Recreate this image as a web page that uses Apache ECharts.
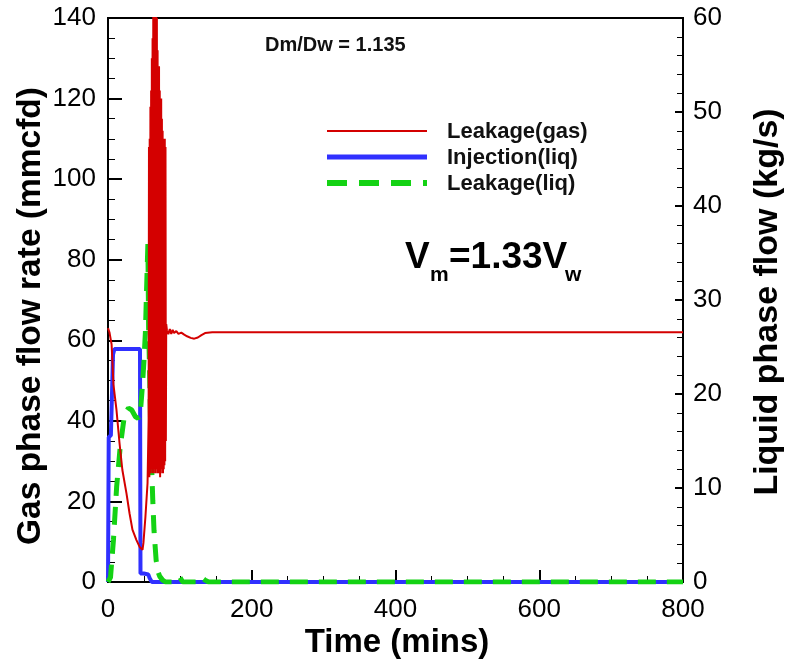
<!DOCTYPE html>
<html>
<head>
<meta charset="utf-8">
<script src="https://cdn.jsdelivr.net/npm/echarts@6/dist/echarts.min.js"></script>
<style>html,body{margin:0;padding:0;background:#fff;}#c{width:786px;height:663px;}</style>
</head>
<body>
<div id="c"></div>
<script>
// ---- data ----
const xTicks = [0, 200, 400, 600, 800];
const gasTicks = [0, 20, 40, 60, 80, 100, 120, 140];
const liqTicks = [0, 10, 20, 30, 40, 50, 60];

// Leakage(gas) — left axis (mmcfd)
const leakGasT = [0, 2, 5, 7.6, 11.8, 16, 20, 25.7, 30, 34, 39.6, 44, 48, 49.3, 52, 55, 56.5,
  57, 57.5, 58, 58.5, 59, 59.5, 60, 60.5, 61, 61.5, 62, 62.5, 63, 63.5, 64, 64.5, 65, 65.5, 66, 66.5,
  67, 67.5, 68, 68.5, 69, 69.5, 70, 70.5, 71, 71.5, 72, 72.5, 73, 73.5, 74, 74.5, 75, 75.5, 76, 76.5,
  77, 77.5, 78, 78.5, 79, 79.5, 80, 80.5, 81,
  82, 84, 86, 88, 90, 92, 95, 98, 102, 106, 110, 115, 120, 125, 130, 135, 145, 200, 300, 400, 500, 600, 700, 800];
const leakGasV = [63, 62, 59, 49, 42.7, 34.5, 27.8, 22, 17, 13, 10.4, 8.7, 8, 9.7, 16, 24.5, 40,
  108, 26, 110, 30, 118, 27, 122, 29, 130, 28, 135, 27, 148, 29, 150, 28, 150, 27, 148, 29,
  145, 28, 140, 27, 132, 29, 128, 27, 128, 28, 122, 26, 120, 27, 120, 28, 115, 29, 112, 27,
  110, 28, 110, 29, 110, 30, 108, 35, 64,
  62.5, 61.5, 62.8, 61.6, 62.6, 61.8, 62.3, 61.6, 61.9, 61.4, 61.0, 60.6, 60.4, 60.7, 61.3, 61.8, 62, 62, 62, 62, 62, 62, 62, 62];

// Injection(liq) — right axis (kg/s)
const injT = [0, 1, 4, 7, 9, 44.5, 45.2, 50, 56, 58, 61, 800];
const injV = [0, 15.4, 15.6, 24.2, 24.8, 24.8, 0.9, 0.9, 0.8, 0.4, 0, 0];

// Leakage(liq) — right axis (kg/s)
const leakLiqT = [0, 2, 3.5, 7.6, 12, 17, 23, 28.5, 33, 38, 42, 45, 48, 50, 52, 54, 55.5, 56.5, 57.7, 60,
  62.3, 64, 67, 70, 72, 76, 80, 95, 100, 104, 125, 130, 135, 140, 800];
const leakLiqV = [0, 0, 0.5, 4.5, 10.1, 14.4, 17.8, 18.5, 18.3, 17.6, 17.4, 18, 21, 23.5, 26.5, 32, 36, 27, 23, 14,
  8.7, 5.5, 2.3, 1, 0.6, 0.2, 0, 0, 0.5, 0, 0, 0.5, 0.2, 0, 0];

const seriesNames = ['Leakage(gas)', 'Injection(liq)', 'Leakage(liq)'];
const colors = ['#d40000', '#3030ff', '#14d214'];

// ---- build ----
const zip = (a, b) => a.map((t, i) => [t, b[i]]);
const FF = "'Liberation Sans', Arial, sans-serif";
const bold = s => "bold " + s + "px 'Liberation Sans', Arial, sans-serif";

const chart = echarts.init(document.getElementById('c'), null, {renderer: 'canvas'});

function yAxisCommon(min, max, interval, pos, tickLen, minorLen, minorSplit, ticks, margin) {
  return {
    type: 'value', min: min, max: max, interval: interval, position: pos,
    axisLine: {show: true, lineStyle: {color: '#000', width: 2}},
    axisTick: {show: true, inside: true, length: tickLen, lineStyle: {color: '#000', width: 2}},
    minorTick: {show: true, inside: true, splitNumber: minorSplit, length: minorLen, lineStyle: {color: '#000', width: 1}},
    splitLine: {show: false},
    axisLabel: {fontSize: 26, color: '#000', margin: margin, fontFamily: FF,
      formatter: v => ticks.includes(v) ? String(v) : ''}
  };
}

const option = {
  animation: false,
  backgroundColor: '#fff',
  grid: {left: 108, right: 103, top: 18, bottom: 81, show: true, borderColor: '#000', borderWidth: 2},
  xAxis: {
    type: 'value', min: 0, max: 800, interval: 200,
    axisLine: {show: true, lineStyle: {color: '#000', width: 2}},
    axisTick: {show: true, inside: true, length: 12, lineStyle: {color: '#000', width: 2}},
    minorTick: {show: true, splitNumber: 4, length: 6, lineStyle: {color: '#000', width: 1}},
    splitLine: {show: false},
    axisLabel: {fontSize: 26, color: '#000', margin: 15, fontFamily: FF,
      formatter: v => xTicks.includes(v) ? String(v) : ''}
  },
  yAxis: [
    yAxisCommon(0, 140, 20, 'left', 14, 7, 4, gasTicks, 12),
    yAxisCommon(0, 60, 10, 'right', 8, 6, 5, liqTicks, 10)
  ],
  series: [
    {name: seriesNames[1], type: 'line', yAxisIndex: 1, data: zip(injT, injV), showSymbol: false, symbol: 'none',
      lineStyle: {color: colors[1], width: 4}, z: 2},
    {name: seriesNames[2], type: 'line', yAxisIndex: 1, data: zip(leakLiqT, leakLiqV), showSymbol: false, symbol: 'none',
      lineStyle: {color: colors[2], width: 5, type: [18, 11]}, z: 3},
    {name: seriesNames[0], type: 'line', yAxisIndex: 0, data: zip(leakGasT, leakGasV), showSymbol: false, symbol: 'none',
      lineStyle: {color: colors[0], width: 2}, z: 4}
  ],
  graphic: [
    // axis titles
    {type: 'text', x: 31, y: 316, rotation: Math.PI / 2,
      style: {text: 'Gas phase flow rate (mmcfd)', font: bold(33.5), fill: '#000', align: 'center', verticalAlign: 'middle'}},
    {type: 'text', x: 768, y: 302, rotation: Math.PI / 2,
      style: {text: 'Liquid phase flow (kg/s)', font: bold(34), fill: '#000', align: 'center', verticalAlign: 'middle'}},
    {type: 'text', x: 397, y: 643,
      style: {text: 'Time (mins)', font: bold(33), fill: '#000', align: 'center', verticalAlign: 'middle'}},
    // legend
    {type: 'line', shape: {x1: 327, y1: 131, x2: 427, y2: 131}, style: {stroke: colors[0], lineWidth: 2}},
    {type: 'line', shape: {x1: 327, y1: 157, x2: 427, y2: 157}, style: {stroke: colors[1], lineWidth: 5}},
    {type: 'line', shape: {x1: 327, y1: 183, x2: 427, y2: 183}, style: {stroke: colors[2], lineWidth: 6, lineDash: [20, 12]}},
    {type: 'text', x: 447, y: 132, style: {text: seriesNames[0], font: bold(22), fill: '#111', verticalAlign: 'middle'}},
    {type: 'text', x: 447, y: 158, style: {text: seriesNames[1], font: bold(22), fill: '#111', verticalAlign: 'middle'}},
    {type: 'text', x: 447, y: 184, style: {text: seriesNames[2], font: bold(22), fill: '#111', verticalAlign: 'middle'}},
    // annotations
    {type: 'text', x: 265, y: 45, style: {text: 'Dm/Dw = 1.135', font: bold(20), fill: '#111', verticalAlign: 'middle'}},
    {type: 'text', x: 405, y: 276, style: {text: 'V', font: bold(37), fill: '#000', verticalAlign: 'bottom'}},
    {type: 'text', x: 430, y: 286, style: {text: 'm', font: bold(21), fill: '#000', verticalAlign: 'bottom'}},
    {type: 'text', x: 449, y: 276, style: {text: '=1.33V', font: bold(37), fill: '#000', verticalAlign: 'bottom'}},
    {type: 'text', x: 565, y: 286, style: {text: 'w', font: bold(21), fill: '#000', verticalAlign: 'bottom'}}
  ]
};
chart.setOption(option);
</script>
</body>
</html>
